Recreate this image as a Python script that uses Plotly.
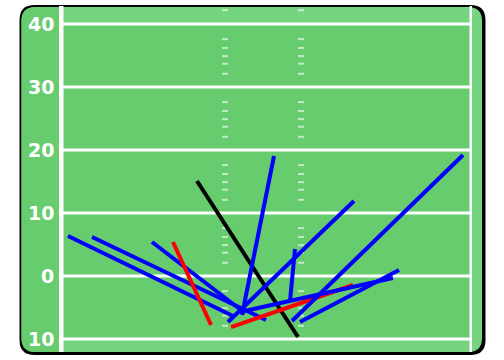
import plotly.graph_objects as go

# ---- data (yards; x measured from field centre, y = yard line) ----
pass_names = ["A", "B", "C", "D", "E", "F", "G", "H", "I", "J", "K", "L"]
pass_colors = ["blue", "blue", "blue", "red", "black", "blue", "blue", "blue", "red", "blue", "blue", "blue"]
x_start = [-30.95, -27.14, -17.62, -14.29, -10.48, 1.75, 14.44, 5.08, -5.08, 31.75, 21.59, -3.65]
y_start = [6.35, 6.19, 5.40, 5.40, 15.08, 19.05, 11.90, 4.29, -8.10, 19.21, 0.95, -5.71]
x_end = [-4.76, 0.48, -2.86, -8.25, 5.56, -3.33, -5.56, 4.29, 14.29, 4.60, 5.87, 20.63]
y_end = [-6.35, -6.98, -5.87, -7.78, -9.68, -6.19, -7.30, -3.97, -1.43, -7.14, -7.30, -0.32]

yard_lines = [40, 30, 20, 10, 0, -10]
yard_labels = ["40", "30", "20", "10", "0", "10"]
hash_offsets = [2.4, 3.8, 5.1, 6.3, 7.9]

# ---- geometry helpers (pixels -> data) ----
W, H = 504, 360
PX_PER_YD = 6.3
X0_PX, Y0_PX = 263, 276  # pixel of x=0, y=0


def X(px):
    return (px - X0_PX) / PX_PER_YD


def Y(py):
    return (Y0_PX - py) / PX_PER_YD


def rpath(x0, y0, x1, y1, rl, rr):
    # rounded rect in pixel coords -> path in data coords
    pts = []
    pts.append(f"M {X(x0 + rl)},{Y(y0)}")
    pts.append(f"L {X(x1 - rr)},{Y(y0)}")
    if rr:
        pts.append(f"Q {X(x1)},{Y(y0)} {X(x1)},{Y(y0 + rr)}")
    pts.append(f"L {X(x1)},{Y(y1 - rr)}")
    if rr:
        pts.append(f"Q {X(x1)},{Y(y1)} {X(x1 - rr)},{Y(y1)}")
    pts.append(f"L {X(x0 + rl)},{Y(y1)}")
    if rl:
        pts.append(f"Q {X(x0)},{Y(y1)} {X(x0)},{Y(y1 - rl)}")
    pts.append(f"L {X(x0)},{Y(y0 + rl)}")
    if rl:
        pts.append(f"Q {X(x0)},{Y(y0)} {X(x0 + rl)},{Y(y0)}")
    pts.append("Z")
    return " ".join(pts)


MAIN = "#66CC6E"
LIGHT = "#75D47F"

shapes = []
# black border / shadow
shapes.append(dict(type="path", path=rpath(19.5, 5, 485.5, 355, 15, 15),
                   fillcolor="black", line=dict(width=0), layer="below"))
# lighter base
shapes.append(dict(type="path", path=rpath(21.5, 7, 482, 352, 14, 14),
                   fillcolor=LIGHT, line=dict(width=0), layer="below"))
# left label strip (main green)
shapes.append(dict(type="path", path=rpath(21.5, 7, 62, 352, 14, 0),
                   fillcolor=MAIN, line=dict(width=0), layer="below"))
# main field
shapes.append(dict(type="rect", x0=X(62), x1=X(471), y0=40, y1=-10,
                   fillcolor=MAIN, line=dict(width=0), layer="below"))
# side lines
shapes.append(dict(type="rect", x0=X(59), x1=X(63.5), y0=Y(6), y1=Y(352),
                   fillcolor="white", line=dict(width=0), layer="below"))
shapes.append(dict(type="rect", x0=X(469.5), x1=X(472), y0=Y(6), y1=Y(352),
                   fillcolor="white", line=dict(width=0), layer="below"))
# yard lines
for yl in yard_lines:
    shapes.append(dict(type="line", x0=X(63), x1=X(470), y0=yl, y1=yl,
                       line=dict(color="white", width=3), layer="below"))
# hash marks
hash_x = [X(225), X(301)]
hash_ys = [42.2]
for top in yard_lines[:-1]:
    for off in hash_offsets:
        hash_ys.append(top - off)
for hx in hash_x:
    for hy in hash_ys:
        shapes.append(dict(type="line", x0=hx - 3 / PX_PER_YD, x1=hx + 3 / PX_PER_YD,
                           y0=hy, y1=hy,
                           line=dict(color="rgba(255,255,255,0.6)", width=2),
                           layer="below"))

annotations = []
for yl, lab in zip(yard_lines, yard_labels):
    annotations.append(dict(x=X(56), y=yl, text=lab, showarrow=False,
                            xanchor="right", yanchor="middle",
                            font=dict(family="DejaVu Sans", size=19,
                                      color="white", weight="bold")))

fig = go.Figure()
for name, c, xs, ys, xe, ye in zip(pass_names, pass_colors, x_start, y_start, x_end, y_end):
    fig.add_trace(go.Scatter(x=[xs, xe], y=[ys, ye], mode="lines", name=name,
                             line=dict(color=c, width=4), hoverinfo="skip"))

fig.update_layout(
    width=W, height=H,
    margin=dict(l=0, r=0, t=0, b=0),
    paper_bgcolor="white", plot_bgcolor="rgba(0,0,0,0)",
    showlegend=False,
    shapes=shapes, annotations=annotations,
    xaxis=dict(range=[X(0), X(W)], visible=False, fixedrange=True),
    yaxis=dict(range=[Y(H), Y(0)], visible=False, fixedrange=True),
)

fig.write_html("out.html")
